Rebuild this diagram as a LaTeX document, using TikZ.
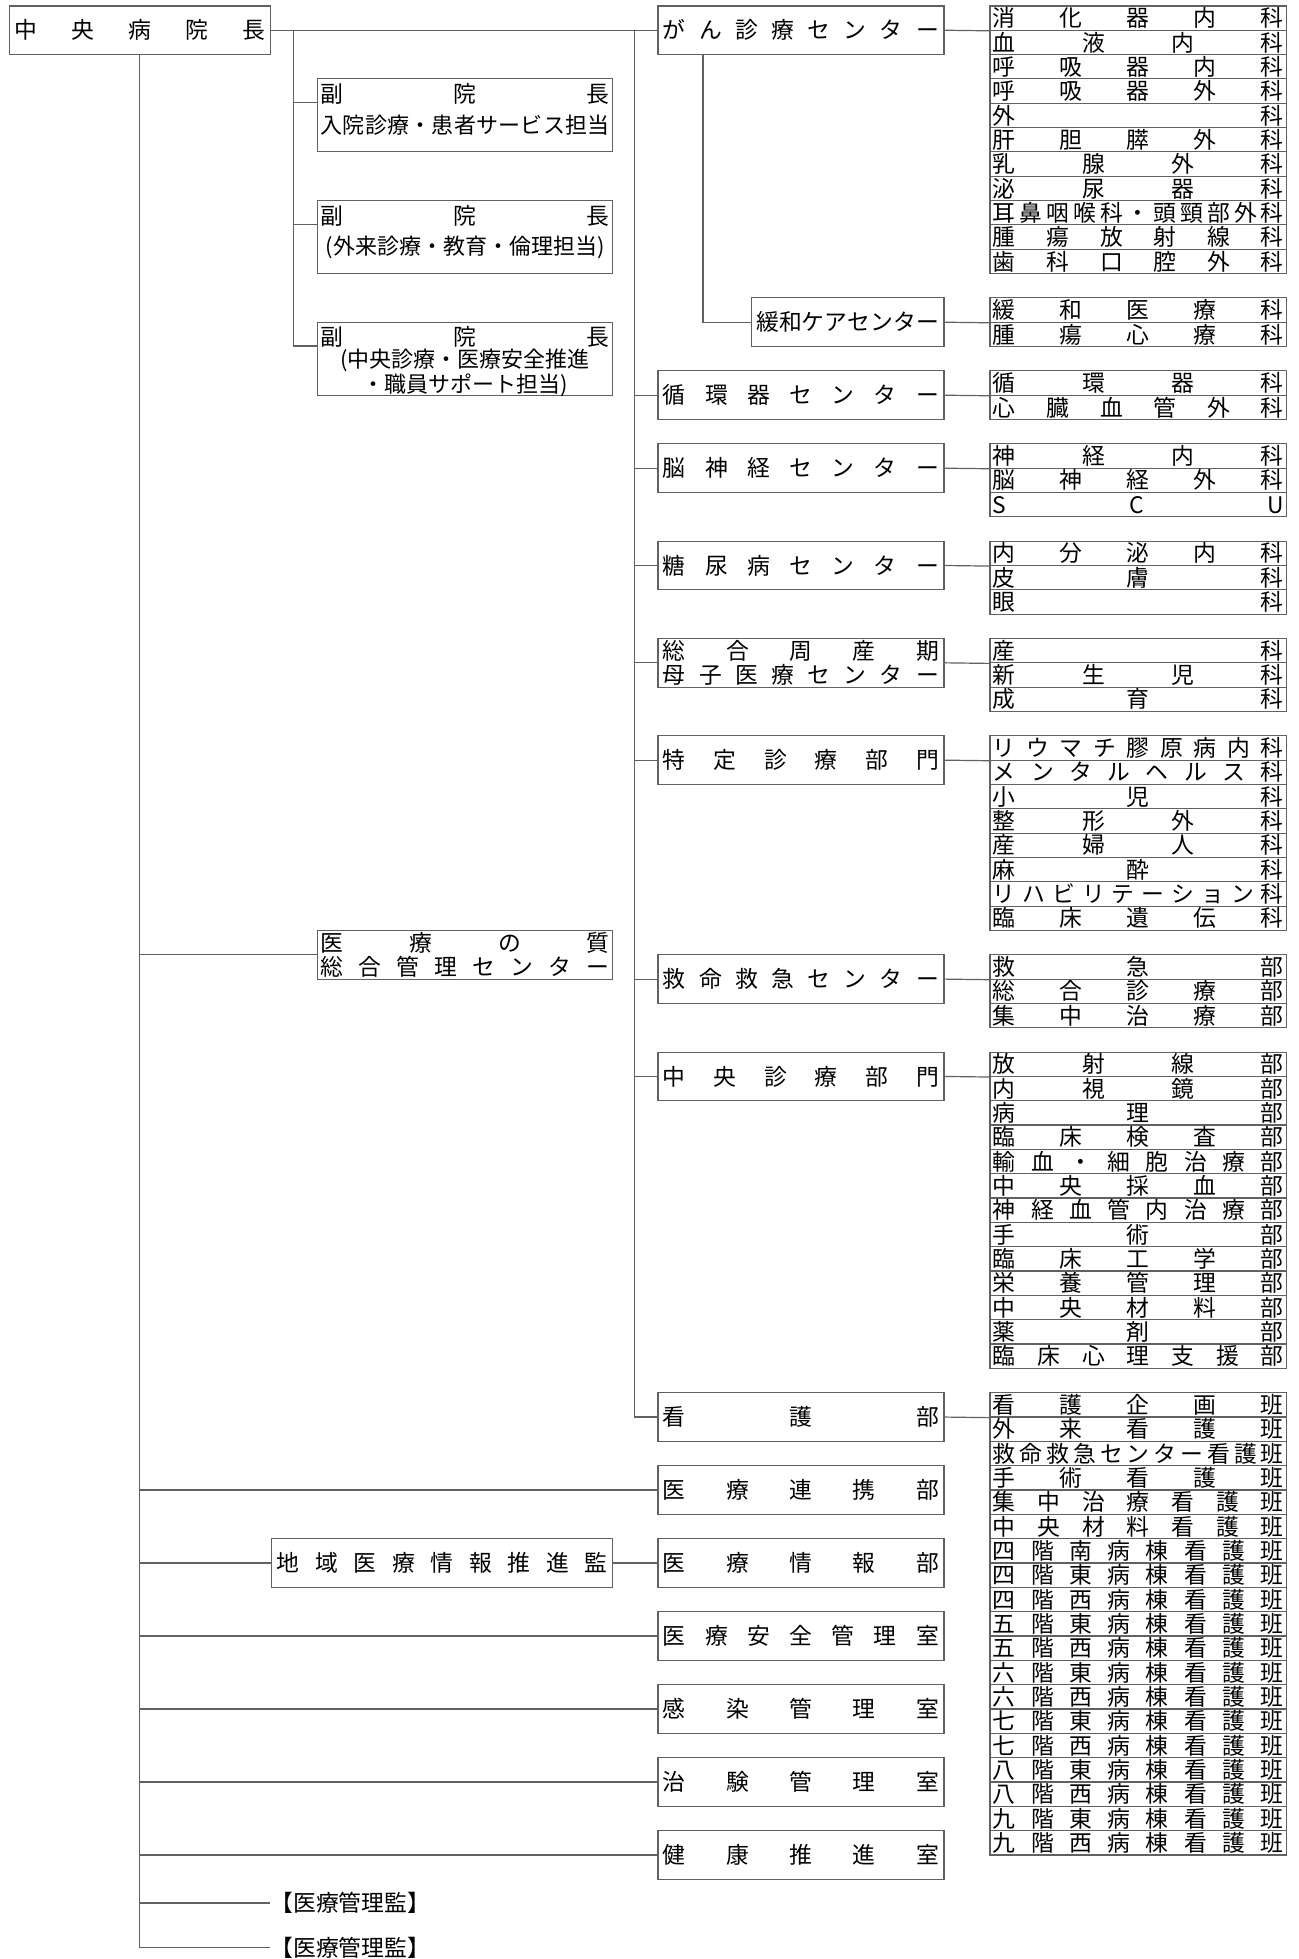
\documentclass[tikz,border=0pt]{standalone}
\usepackage{fontspec}
\setmainfont{Noto Sans CJK JP}
\usetikzlibrary{calc}
\definecolor{linec}{gray}{0.38}
% characters spread evenly over a fixed width
\newcommand\spreadtext[1]{\edef\spreadtmp{#1}\expandafter\spreadfirst\spreadtmp\relax}
\def\spreadfirst#1{#1\spreadrest}
\def\spreadrest#1{\ifx#1\relax\else\hfill#1\expandafter\spreadrest\fi}
\newcommand\rowstrut{\vrule width 0pt height 10.41pt depth 1.755pt}
\newcommand\spreadrow[2]{\hbox to #1{\rowstrut\spreadtext{#2}}}
\newcommand\centerrow[2]{\hbox to #1{\rowstrut\hfil#2\hfil}}
\newcommand\vpfont{\fontsize{11pt}{12.165pt}\selectfont}
% one column of departments, one row each
\newcommand\deptlist[3]{\foreach \dept [count=\i from 0] in {#3}
  \node[cell] (#1-\i) at (989.3,#2+\i) {\spreadrow{145.35pt}{\dept}};}

\begin{document}
\begin{tikzpicture}[x=0.5pt, y=-12.165pt,
  font=\fontsize{11.4pt}{12.165pt}\selectfont,
  conn/.style={draw=linec, line width=0.6pt},
  box/.style={draw=linec, line width=0.6pt, anchor=north west, inner ysep=0pt, inner xsep=2.5pt},
  cbox/.style={box, minimum width=143pt, minimum height=24.33pt},
  cell/.style={box, inner xsep=1.5pt, minimum width=148.35pt},
  vpbox/.style={box, inner xsep=1.5pt, minimum width=147.5pt, minimum height=36.5pt},
  note/.style={anchor=west, inner sep=0pt}]
\useasboundingbox (0,-0.2178) rectangle (1299,80.30);
% director
\node[box, minimum width=130.75pt, minimum height=24.33pt] (chief) at (8.5,0) {\spreadrow{125.75pt}{中央病院長}};
% vice directors
\node[vpbox] (vp1) at (317,3) {\vbox to 36.5pt{\offinterlineskip\kern1.46pt
  \spreadrow{144.5pt}{副院長}\kern3.17pt{\vpfont\spreadrow{144.5pt}{入院診療・患者サービス担当}}\vfil}};
\node[vpbox] (vp2) at (317,8) {\vbox to 36.5pt{\offinterlineskip\kern1.46pt
  \spreadrow{144.5pt}{副院長}\kern3.17pt{\vpfont\centerrow{144.5pt}{(外来診療・教育・倫理担当)}}\vfil}};
\node[vpbox] (vp3) at (317,13) {\vbox to 36.5pt{\offinterlineskip\kern1.2pt
  \spreadrow{144.5pt}{副院長}\kern-1.2pt{\vpfont\centerrow{144.5pt}{(中央診療・医療安全推進}
  \centerrow{144.5pt}{・職員サポート担当)}}\vfil}};
% left column
\node[box, inner xsep=1.5pt, minimum width=147.5pt, minimum height=24.33pt] (qual) at (317,38)
  {\vbox{\offinterlineskip\spreadrow{144.5pt}{医療の質}\spreadrow{144.5pt}{総合管理センター}}};
\node[box, minimum width=170.5pt, minimum height=24.33pt] (chiiki) at (271,63) {\spreadrow{165.5pt}{地域医療情報推進監}};
\node[note] (kanri1) at (270,78) {\rowstrut【医療管理監】};
\node[note] (kanri2) at (270,79.84) {\rowstrut【医療管理監】};
% centres and departments
\node[cbox] (gan) at (657.3,0) {\spreadrow{138pt}{がん診療センター}};
\node[cbox, minimum width=96.35pt] (kanwa) at (750.6,12) {\spreadrow{91.35pt}{緩和ケアセンター}};
\node[cbox] (junkan) at (657.3,15) {\spreadrow{138pt}{循環器センター}};
\node[cbox] (nou) at (657.3,18) {\spreadrow{138pt}{脳神経センター}};
\node[cbox] (tonyo) at (657.3,22) {\spreadrow{138pt}{糖尿病センター}};
\node[cbox] (shusan) at (657.3,26)
  {\vbox{\offinterlineskip\spreadrow{138pt}{総合周産期}\spreadrow{138pt}{母子医療センター}}};
\node[cbox] (tokutei) at (657.3,30) {\spreadrow{138pt}{特定診療部門}};
\node[cbox] (kyumei) at (657.3,39) {\spreadrow{138pt}{救命救急センター}};
\node[cbox] (chuo) at (657.3,43) {\spreadrow{138pt}{中央診療部門}};
\node[cbox] (kango) at (657.3,57) {\spreadrow{138pt}{看護部}};
\node[cbox] (renkei) at (657.3,60) {\spreadrow{138pt}{医療連携部}};
\node[cbox] (joho) at (657.3,63) {\spreadrow{138pt}{医療情報部}};
\node[cbox] (anzen) at (657.3,66) {\spreadrow{138pt}{医療安全管理室}};
\node[cbox] (kansen) at (657.3,69) {\spreadrow{138pt}{感染管理室}};
\node[cbox] (chiken) at (657.3,72) {\spreadrow{138pt}{治験管理室}};
\node[cbox] (kenko) at (657.3,75) {\spreadrow{138pt}{健康推進室}};
% department lists
\deptlist{gan}{0}{消化器内科,血液内科,呼吸器内科,呼吸器外科,外科,肝胆膵外科,乳腺外科,泌尿器科,耳鼻咽喉科・頭頸部外科,腫瘍放射線科,歯科口腔外科}
\deptlist{kanwa}{12}{緩和医療科,腫瘍心療科}
\deptlist{junkan}{15}{循環器科,心臓血管外科}
\deptlist{nou}{18}{神経内科,脳神経外科,SCU}
\deptlist{tonyo}{22}{内分泌内科,皮膚科,眼科}
\deptlist{shusan}{26}{産科,新生児科,成育科}
\deptlist{tokutei}{30}{リウマチ膠原病内科,メンタルヘルス科,小児科,整形外科,産婦人科,麻酔科,リハビリテーション科,臨床遺伝科}
\deptlist{kyumei}{39}{救急部,総合診療部,集中治療部}
\deptlist{chuo}{43}{放射線部,内視鏡部,病理部,臨床検査部,輸血・細胞治療部,中央採血部,神経血管内治療部,手術部,臨床工学部,栄養管理部,中央材料部,薬剤部,臨床心理支援部}
\deptlist{kango}{57}{看護企画班,外来看護班,救命救急センター看護班,手術看護班,集中治療看護班,中央材料看護班,四階南病棟看護班,四階東病棟看護班,四階西病棟看護班,五階東病棟看護班,五階西病棟看護班,六階東病棟看護班,六階西病棟看護班,七階東病棟看護班,七階西病棟看護班,八階東病棟看護班,八階西病棟看護班,九階東病棟看護班,九階西病棟看護班}
% connectors
\draw[conn] (chief.east) -- (gan.west);
\foreach \b in {qual,renkei,chiiki,anzen,kansen,chiken,kenko,kanri1,kanri2}
  \draw[conn] (chief.south) |- (\b.west);
\coordinate (vpj) at (293.5,1);
\foreach \b in {vp1,vp2,vp3}
  \draw[conn] (vpj) |- ($(\b.north west)+(0,1)$);
\coordinate (cj) at (634.5,1);
\foreach \b in {junkan,nou,tonyo,shusan,tokutei,kyumei,chuo,kango}
  \draw[conn] (cj) |- (\b.west);
\draw[conn] (gan.south west) ++(45.7,0) |- (kanwa.west);
\draw[conn] (chiiki.east) -- (joho.west);
\foreach \b in {gan,kanwa,junkan,nou,tonyo,shusan,tokutei,kyumei,chuo,kango}
  \draw[conn] (\b.east) -- (\b-0.south west);
\end{tikzpicture}
\end{document}
